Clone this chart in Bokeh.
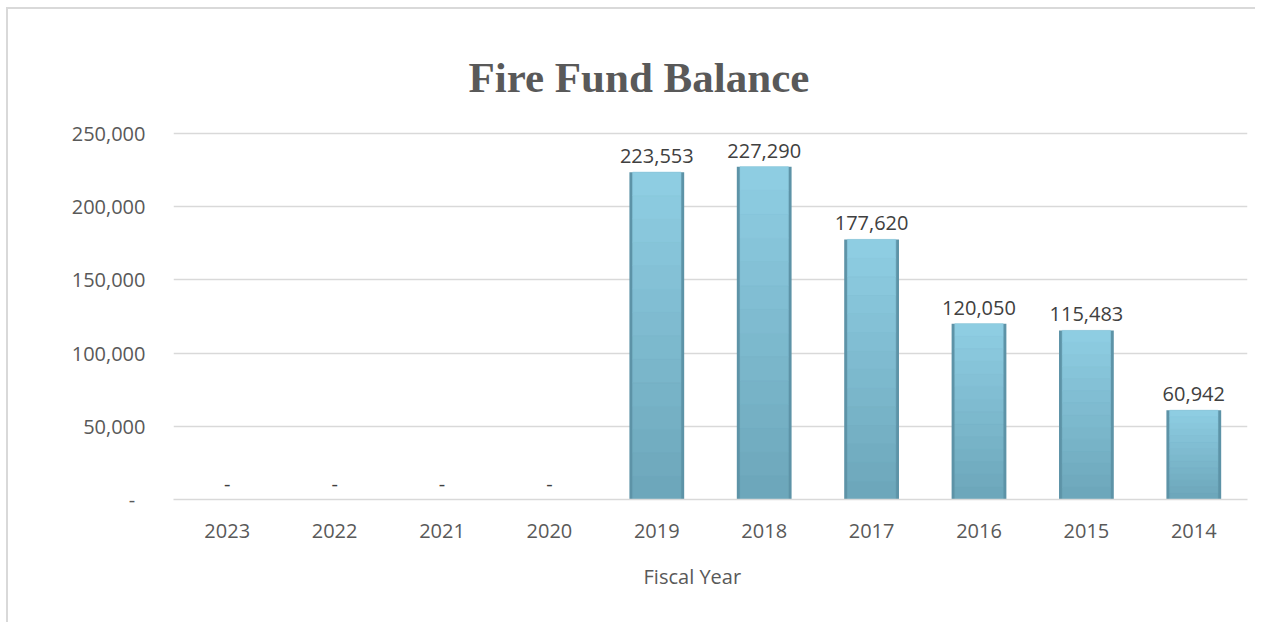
from bokeh.plotting import figure
from bokeh.models import Range1d, FactorRange, CustomJSTickFormatter, FixedTicker, ColumnDataSource
from bokeh.core.properties import value
from bokeh.embed import file_html
from bokeh.resources import INLINE

# ---- data ----
years = ["2023", "2022", "2021", "2020", "2019", "2018", "2017", "2016", "2015", "2014"]
balances = [0, 0, 0, 0, 223553, 227290, 177620, 120050, 115483, 60942]
y_ticks = [0, 50000, 100000, 150000, 200000, 250000]
chart_title = "Fire Fund Balance"
x_title = "Fiscal Year"

labels = ["-" if v == 0 else f"{v:,}" for v in balances]
src = ColumnDataSource(dict(year=years, bal=balances, lab=labels))

FONT = "Open Sans"
TXT = "#595959"

p = figure(
    x_range=FactorRange(*years, range_padding=0),
    y_range=Range1d(0, 252000),
    width=1249, height=615,
    output_backend="svg", toolbar_location=None,
    min_border_left=165, min_border_right=10,
    min_border_top=121, min_border_bottom=125,
    background_fill_color="white", border_fill_color="white",
)
p.outline_line_color = None
p.styles = {"margin-left": "6px", "margin-top": "7px",
            "border-left": "2px solid #d9d9d9", "border-top": "2px solid #d9d9d9"}

# title (shifted left so it is centred on the whole chart area)
p.title.text = chart_title
p.title.align = "left"
p.title.offset = 295
p.title.standoff = 59
p.title.text_font = "Liberation Serif"
p.title.text_font_style = "bold"
p.title.text_font_size = "43px"
p.title.text_color = TXT

# bars: darker outer body
p.vbar(x="year", top="bal", bottom=0, width=0.51, source=src,
       fill_color="#5d93a7", line_color=None)

# inner face with a vertical gradient (bottom darker -> top lighter)
N = 14
c0 = (0x6c, 0xa6, 0xba)
c1 = (0x8f, 0xce, 0xe3)
for k in range(N):
    t = (k + 0.5) / N
    col = "#%02x%02x%02x" % tuple(int(round(a + (b - a) * t)) for a, b in zip(c0, c1))
    seg = ColumnDataSource(dict(
        year=years,
        top=[v * (k + 1) / N for v in balances],
        bottom=[v * k / N for v in balances],
    ))
    p.vbar(x="year", top="top", bottom="bottom", width=0.45, source=seg,
           fill_color=col, line_color=col, line_width=0.6)

# data labels
p.text(x="year", y="bal", text="lab", source=src, y_offset=-16,
       text_align="center", text_baseline="alphabetic",
       text_font=value(FONT), text_font_size="20px", text_color="#404040")

# axes
p.yaxis.ticker = FixedTicker(ticks=y_ticks)
p.yaxis.formatter = CustomJSTickFormatter(
    code="return tick == 0 ? '-\\u00a0\\u00a0' : tick.toLocaleString('en-US');")
p.yaxis.axis_line_color = None
p.yaxis.major_tick_line_color = None
p.yaxis.minor_tick_line_color = None
p.yaxis.major_label_standoff = 22
p.yaxis.major_label_text_font = FONT
p.yaxis.major_label_text_font_size = "20px"
p.yaxis.major_label_text_color = TXT

p.xaxis.axis_line_color = "#d9d9d9"
p.xaxis.axis_line_width = 1.5
p.xaxis.major_tick_line_color = None
p.xaxis.minor_tick_line_color = None
p.xaxis.major_label_standoff = 18
p.xaxis.major_label_text_font = FONT
p.xaxis.major_label_text_font_size = "20px"
p.xaxis.major_label_text_color = TXT
p.xaxis.axis_label = x_title + "\u00a0" * 7
p.xaxis.axis_label_text_font = FONT
p.xaxis.axis_label_text_font_size = "20px"
p.xaxis.axis_label_text_font_style = "normal"
p.xaxis.axis_label_text_color = TXT
p.xaxis.axis_label_standoff = 22

p.xgrid.grid_line_color = None
p.ygrid.grid_line_color = "#d9d9d9"
p.ygrid.grid_line_width = 1.5

open("out.html", "w").write(file_html(p, INLINE))
